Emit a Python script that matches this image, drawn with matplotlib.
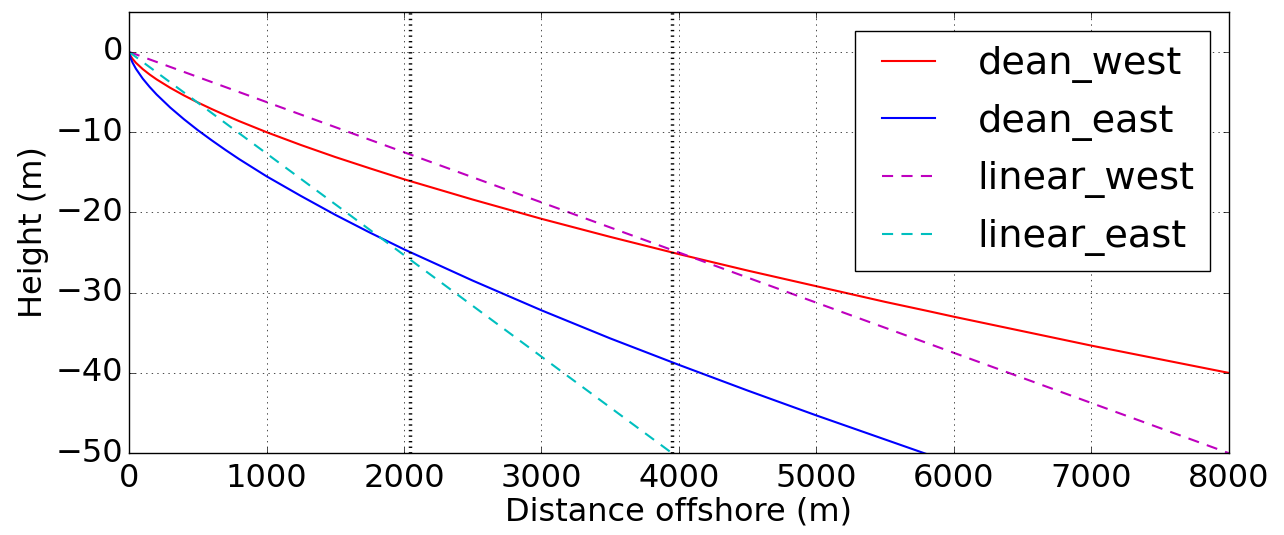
import matplotlib
matplotlib.use('Agg')
import matplotlib.pyplot as plt

# values
dean_x = [0, 10, 25, 50, 100, 150, 200, 300, 400, 500, 600, 700, 800, 1000,
          1250, 1500, 1750, 2000, 2500, 3000, 3500, 4000, 4500, 5000, 5500,
          5800, 6000, 7000, 8000]
dean_west = [0, -0.46, -0.86, -1.36, -2.15, -2.82, -3.42, -4.48, -5.43, -6.3,
             -7.11, -7.88, -8.62, -10.0, -11.6, -13.1, -14.5, -15.87, -18.4,
             -20.8, -23.05, -25.2, -27.25, -29.2, -31.15, -32.25, -33.0, -36.6,
             -40.0]
dean_east_x = dean_x[:26]
dean_east = [0, -0.72, -1.32, -2.1, -3.34, -4.37, -5.3, -6.94, -8.4, -9.75,
             -11.0, -12.2, -13.35, -15.5, -17.95, -20.3, -22.5, -24.6, -28.5,
             -32.2, -35.7, -39.0, -42.2, -45.3, -48.3, -50.1]

linear_west_x = [0, 8000]
linear_west = [0, -50]
linear_east_x = [0, 3950]
linear_east = [0, -50]

marker_x = [2045, 3950]

plt.style.use('classic')
fig = plt.figure(figsize=(12.84, 5.35), dpi=100)
ax = fig.add_axes([0.1005, 0.153, 0.8565, 0.825])

ax.plot(dean_x, dean_west, 'r-', lw=1.5, label='dean_west')
ax.plot(dean_east_x, dean_east, 'b-', lw=1.5, label='dean_east')
ax.plot(linear_west_x, linear_west, 'm--', lw=1.5, dashes=(8, 6), label='linear_west')
ax.plot(linear_east_x, linear_east, 'c--', lw=1.5, dashes=(8, 6), label='linear_east')

for xv in marker_x:
    ax.axvline(xv, color='k', ls=':', lw=2.5)

ax.set_xlim(0, 8000)
ax.set_ylim(-50, 5)
ax.set_yticks([-50, -40, -30, -20, -10, 0])
ax.grid(True)
ax.tick_params(labelsize=23)
ax.tick_params(axis='x', pad=7)
ax.set_xlabel('Distance offshore (m)', fontsize=23, labelpad=2)
ax.set_ylabel('Height (m)', fontsize=23)

ax.legend(loc='upper right', fontsize=27.5, borderaxespad=0.5,
          labelspacing=0.54, handletextpad=0.8)

fig.savefig('out.png', dpi=100)
